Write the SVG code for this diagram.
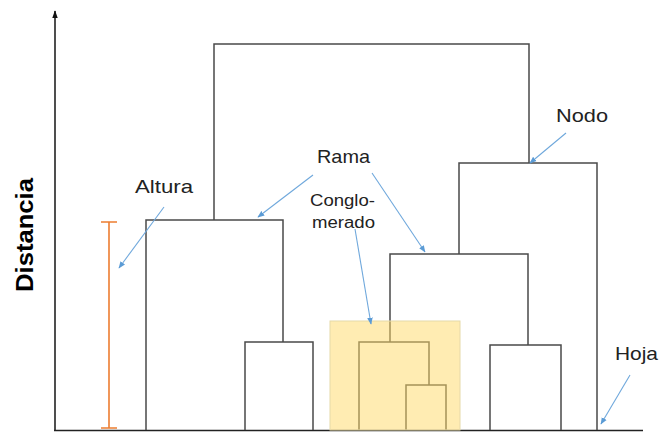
<svg xmlns="http://www.w3.org/2000/svg" width="660" height="432" viewBox="0 0 660 432">
<style>
.tree{fill:none;stroke:#4a4a4a;stroke-width:1.5}
.ax{fill:none;stroke:#222;stroke-width:1.6}
.ann{fill:none;stroke:#6fa8dc;stroke-width:1.1}
.lbl{font-family:"Liberation Sans",Arial,sans-serif;font-size:19px;fill:#222}
.sm{font-size:16px}
</style>
<defs>
<marker id="bh" viewBox="0 0 10 10" refX="9" refY="5" markerWidth="7" markerHeight="7" orient="auto" markerUnits="userSpaceOnUse">
<path d="M0,1 L10,5 L0,9 z" fill="#5b9bd5"/>
</marker>
<marker id="ah" viewBox="0 0 10 10" refX="9" refY="5" markerWidth="8" markerHeight="8" orient="auto" markerUnits="userSpaceOnUse">
<path d="M0,1.5 L10,5 L0,8.5 z" fill="#111"/>
</marker>
</defs>
<rect width="660" height="432" fill="#fff"/>
<g id="axes">
<line class="ax" x1="55" y1="431" x2="55" y2="11" marker-end="url(#ah)"/>
<line class="ax" x1="54" y1="430.5" x2="643" y2="430.5"/>
<text transform="translate(33,235) rotate(-90)" text-anchor="middle" font-family="'Liberation Sans',Arial,sans-serif" font-weight="bold" font-size="23" fill="#000" textLength="114" lengthAdjust="spacingAndGlyphs">Distancia</text>
</g>
<g id="connectors">
<path class="tree" d="M214,220 V44 H529 V163"/>
<path class="tree" d="M146,430 V220 H283 V342"/>
<path class="tree" d="M245,430 V342 H313 V430"/>
<path class="tree" d="M459,254 V163 H597 V430"/>
<path class="tree" d="M390,342 V254 H528 V345"/>
<path class="tree" d="M490,430 V345 H561 V430"/>
<path class="tree" d="M359,430 V342 H429 V385"/>
<path class="tree" d="M406,430 V385 H446 V430"/>
</g>
<g id="conglomerado-box">
<rect x="330" y="321" width="130" height="109" fill="#ffd966" fill-opacity="0.5" stroke="#e6d9a8" stroke-width="1"/>
</g>
<g id="altura-bar">
<path d="M109,222 V428 M101,222 H117 M101,428 H117" fill="none" stroke="#ed7d31" stroke-width="1.6"/>
</g>
<g id="annotations">
<line class="ann" x1="164" y1="207" x2="119" y2="268" marker-end="url(#bh)"/>
<line class="ann" x1="313" y1="175" x2="258" y2="217" marker-end="url(#bh)"/>
<line class="ann" x1="372" y1="173" x2="425" y2="252" marker-end="url(#bh)"/>
<line class="ann" x1="355" y1="229" x2="371" y2="324" marker-end="url(#bh)"/>
<line class="ann" x1="566" y1="133" x2="530" y2="163" marker-end="url(#bh)"/>
<line class="ann" x1="630" y1="375" x2="601" y2="424" marker-end="url(#bh)"/>
</g>
<g id="label-altura"><text class="lbl" x="135" y="193" textLength="58" lengthAdjust="spacingAndGlyphs">Altura</text></g>
<g id="label-rama"><text class="lbl" x="317" y="163" textLength="53" lengthAdjust="spacingAndGlyphs">Rama</text></g>
<g id="label-conglomerado">
<text class="lbl sm" x="310" y="206" textLength="65" lengthAdjust="spacingAndGlyphs">Conglo-</text>
<text class="lbl sm" x="312" y="228" textLength="63" lengthAdjust="spacingAndGlyphs">merado</text>
</g>
<g id="label-nodo"><text class="lbl" x="556" y="122" textLength="52" lengthAdjust="spacingAndGlyphs">Nodo</text></g>
<g id="label-hoja"><text class="lbl" x="615" y="360" textLength="43" lengthAdjust="spacingAndGlyphs">Hoja</text></g>
</svg>
